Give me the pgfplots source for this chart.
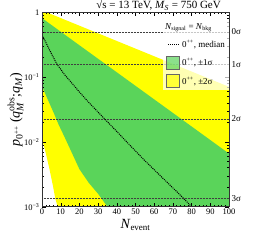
\documentclass[border=0pt]{standalone}
\usepackage{amsmath}
\usepackage{fontspec}
\setmainfont{Liberation Serif}
\usepackage{pgfplots}
\pgfplotsset{compat=1.18}
\usetikzlibrary{calc}
\definecolor{bandgreen}{RGB}{90,212,90}
\definecolor{bandyellow}{RGB}{255,255,0}
\begin{document}
\begin{tikzpicture}
\begin{axis}[
  name=ax,
  scale only axis,
  width=187pt, height=194.4pt,
  ymode=log,
  xmin=0, xmax=100, ymin=1e-3, ymax=1,
  xtick={0,10,...,100},
  minor x tick num=4,
  ytick={0.001,0.01,0.1,1},
  yticklabels={10\textsuperscript{−3},10\textsuperscript{−2},10\textsuperscript{−1},1},
  tick align=inside,
  major tick length=4pt, minor tick length=2pt,
  tick style={black, line width=0.4pt},
  axis line style={line width=0.6pt, black!80},
  /pgf/number format/assume math mode=true,
  tick label style={font=\fontsize{8.5}{10}\selectfont},
  xticklabel style={yshift=1pt},
  yticklabel style={xshift=1pt},
  xlabel={\fontsize{14}{16}\selectfont\textit{N}\textsubscript{\fontsize{9}{10}\selectfont event}},
  xlabel style={yshift=3pt},
  ylabel={\fontsize{14}{16}\selectfont\textit{p}$_{\text{0}^{\text{++}}}$\,(\textit{q}$^{\text{obs}}_{\textit{M}}$;\textit{q}$_{\textit{M}}$)},
  ylabel style={yshift=-6pt},
  clip=true,
  axis on top,
  legend style={at={(1,0.965)}, anchor=north east, draw=none, fill=white, fill opacity=0.7, text opacity=1,
    font=\fontsize{9}{10}\selectfont, row sep=5pt, inner xsep=2pt, inner ysep=2.5pt},
  legend cell align=left,
]
% yellow band (+-2 sigma)
\addplot[fill=bandyellow, draw=none, forget plot] coordinates {
 (0,1.07) (100,0.0708) (100,0.0005) (10,0.00063) (8.4,0.001) (7.1,0.00133)
 (6,0.002) (4,0.0038) (2,0.00676) (0,0.0112)} -- cycle;
% green band (+-1 sigma)
\addplot[fill=bandgreen, draw=none, forget plot] coordinates {
 (0,0.813) (20,0.31) (40,0.1186) (60,0.0453) (80,0.0173) (100,0.0066)
 (100,0.0005) (38,0.000708) (35,0.001) (30,0.00158) (25,0.00234) (20,0.0038)
 (16,0.00676) (12,0.0120) (9,0.0182) (6.4,0.0275) (3,0.0457) (0,0.0724)} -- cycle;
% sigma lines
\addplot[densely dotted, black!75, line width=0.5pt, forget plot] coordinates {(0,0.5) (100,0.5)};
\addplot[densely dotted, black!75, line width=0.5pt, forget plot] coordinates {(0,0.1587) (100,0.1587)};
\addplot[densely dotted, black!75, line width=0.5pt, forget plot] coordinates {(0,0.02275) (100,0.02275)};
\addplot[densely dotted, black!75, line width=0.5pt, forget plot] coordinates {(0,0.00135) (100,0.00135)};
% median
\addplot[densely dotted, black, line width=1pt, forget plot] coordinates {
 (0.5,0.417) (2,0.347) (4,0.263) (6,0.204) (8,0.158) (10,0.132) (12,0.110)
 (15,0.0871) (20,0.0589) (25,0.0407) (30,0.0288) (35,0.0204) (40,0.0145)
 (45,0.0102) (50,0.00724) (55,0.00513) (60,0.00372) (65,0.00269) (70,0.00195)
 (75,0.00141) (80,0.001)};
% legend
\addlegendimage{empty legend}
\addlegendentry{\hspace{-17pt}\textit{N}\textsubscript{signal} = \textit{N}\textsubscript{bkg}}
\addlegendimage{legend image code/.code={\draw[densely dotted, black, line width=1pt] (0.1cm,0cm) -- (0.5cm,0cm);}}
\addlegendentry{0\textsuperscript{++}, median}
\addlegendimage{legend image code/.code={\draw[fill=bandgreen, draw=black!60] (0.02cm,-0.23cm) rectangle (0.5cm,0.23cm);}}
\addlegendentry{0\textsuperscript{++}, ±1σ}
\addlegendimage{legend image code/.code={\draw[fill=bandyellow, draw=black!60] (0.02cm,-0.23cm) rectangle (0.5cm,0.23cm);}}
\addlegendentry{0\textsuperscript{++}, ±2σ}
\end{axis}
\begin{scope}[font=\fontsize{9}{10}\selectfont, inner sep=0pt]
\node[anchor=west] at ($(ax.south east)!0.8997!(ax.north east)+(2.5pt,0)$) {0σ};
\node[anchor=west] at ($(ax.south east)!0.7334!(ax.north east)+(2.5pt,0)$) {1σ};
\node[anchor=west] at ($(ax.south east)!0.4524!(ax.north east)+(2.5pt,0)$) {2σ};
\node[anchor=west] at ($(ax.south east)!0.0434!(ax.north east)+(2.5pt,0)$) {3σ};
\node[anchor=base east, font=\fontsize{11}{12}\selectfont] at ($(ax.north east)+(-8pt,3.6pt)$) {√s = 13 TeV, \textit{M}\textsubscript{\textit{S}} = 750 GeV};
\end{scope}
\pgfresetboundingbox
\path[use as bounding box] ($(ax.south west)+(-42pt,-37.3pt)$) rectangle +(256pt,244pt);
\end{tikzpicture}
\end{document}
